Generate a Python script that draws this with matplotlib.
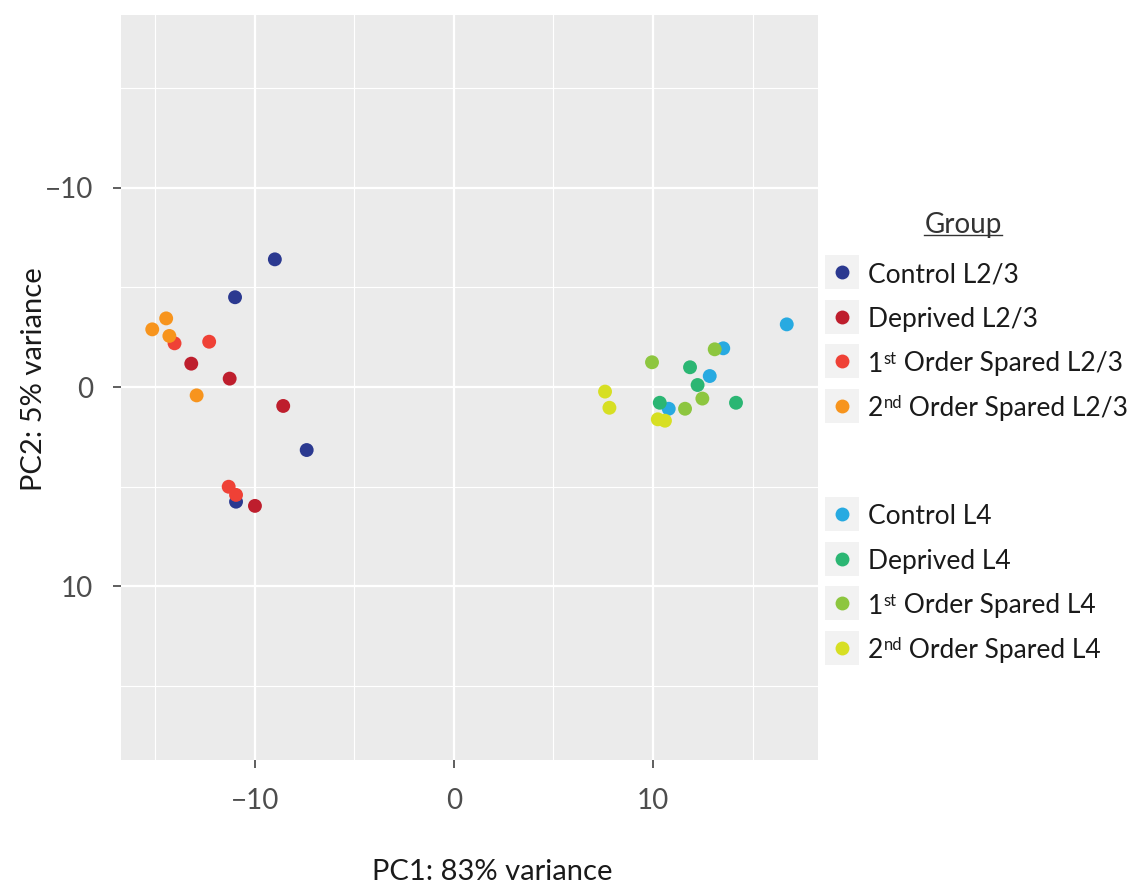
import matplotlib
matplotlib.use("Agg")
import matplotlib.pyplot as plt
from matplotlib.patches import Rectangle
from matplotlib.lines import Line2D

plt.rcParams['font.family'] = ['Lato', 'DejaVu Sans']

# PCA scores per group; labels split as (lead, superscript, rest)
groups = [("Control L2/3", "", ""), ("Deprived L2/3", "", ""),
          ("1", "st", " Order Spared L2/3"), ("2", "nd", " Order Spared L2/3"),
          ("Control L4", "", ""), ("Deprived L4", "", ""),
          ("1", "st", " Order Spared L4"), ("2", "nd", " Order Spared L4")]
colors = ["#2B3990", "#BE1E2D", "#EF4136", "#F7941D",
          "#27AAE1", "#2BB673", "#8DC63F", "#D7DF23"]
pc1 = [[-9.0, -11.0, -7.4, -10.95],
       [-13.2, -11.27, -8.58, -10.0],
       [-12.3, -14.04, -11.32, -10.95],
       [-14.46, -15.16, -14.3, -12.93],
       [16.72, 13.53, 12.85, 10.79],
       [11.86, 12.24, 10.34, 14.17],
       [9.95, 13.1, 12.48, 11.61],
       [7.59, 7.81, 10.24, 10.6]]
pc2 = [[-6.4, -4.5, 3.16, 5.75],
       [-1.17, -0.42, 0.95, 5.96],
       [-2.27, -2.19, 5.0, 5.41],
       [-3.44, -2.89, -2.56, 0.42],
       [-3.14, -1.94, -0.55, 1.09],
       [-0.99, -0.10, 0.79, 0.79],
       [-1.24, -1.89, 0.58, 1.09],
       [0.23, 1.04, 1.62, 1.69]]

W, H = 1132, 889
fig = plt.figure(figsize=(W / 100, H / 100), dpi=100)
renderer = fig.canvas.get_renderer()


def fx(x):
    return x / W


def fy(y):
    return 1 - y / H


ax = fig.add_axes([fx(121), fy(760), (818 - 121) / W, (760 - 15) / H])
ax.set_facecolor("#EBEBEB")
for s in ax.spines.values():
    s.set_visible(False)

for col, xs, ys in zip(colors, pc1, pc2):
    ax.scatter(xs, ys, s=100, c=col, edgecolors='none', zorder=3)

ax.set_xlim(-16.73, 18.29)
ax.set_ylim(18.70, -18.65)
ax.set_xticks([-10, 0, 10])
ax.set_yticks([-10, 0, 10])
ax.set_xticks([-15, -5, 5, 15], minor=True)
ax.set_yticks([-15, -5, 5, 15], minor=True)
ax.grid(which='major', color='white', linewidth=1.6)
ax.grid(which='minor', color='white', linewidth=0.8)
ax.set_axisbelow(True)
ax.tick_params(which='major', length=6, width=1.1, color='#333333',
               labelsize=20, labelcolor='#4D4D4D', pad=14)
ax.tick_params(which='minor', length=0)

fig.text(fx(492), fy(880), "PC1: 83% variance", fontsize=21, ha='center',
         va='baseline', color='#1A1A1A')
fig.text(fx(34), fy(379), "PC2: 5% variance", fontsize=21, ha='center',
         va='center', rotation=90, color='#1A1A1A', rotation_mode='anchor')

# legend
fig.text(fx(963), fy(233), "Group", fontsize=20, ha='center', va='baseline',
         color='#333333')
fig.add_artist(Line2D([fx(924), fx(1002)], [fy(235), fy(235)],
                      color='#333333', linewidth=1.0))

key_y = [272, 316.5, 361, 405.5, 514, 558.5, 603, 647.5]
for (lead, sup, rest), col, ky in zip(groups, colors, key_y):
    fig.add_artist(Rectangle((fx(825), fy(ky + 17)), 34 / W, 34 / H,
                             facecolor='#F2F2F2', edgecolor='none'))
    fig.add_artist(Line2D([fx(842)], [fy(ky)], marker='o', markersize=10,
                          color=col, markeredgewidth=0, linestyle='none'))
    base = ky + 10.5
    t = fig.text(fx(868), fy(base), lead, fontsize=19, ha='left',
                 va='baseline', color='#1A1A1A')
    if sup:
        x1 = t.get_window_extent(renderer).x1
        ts = fig.text((x1 + 0.5) / W, fy(base - 7.5), sup, fontsize=12,
                      ha='left', va='baseline', color='#1A1A1A')
        x2 = ts.get_window_extent(renderer).x1
        fig.text(x2 / W, fy(base), rest, fontsize=19, ha='left',
                 va='baseline', color='#1A1A1A')

fig.savefig("out.png", dpi=100)
